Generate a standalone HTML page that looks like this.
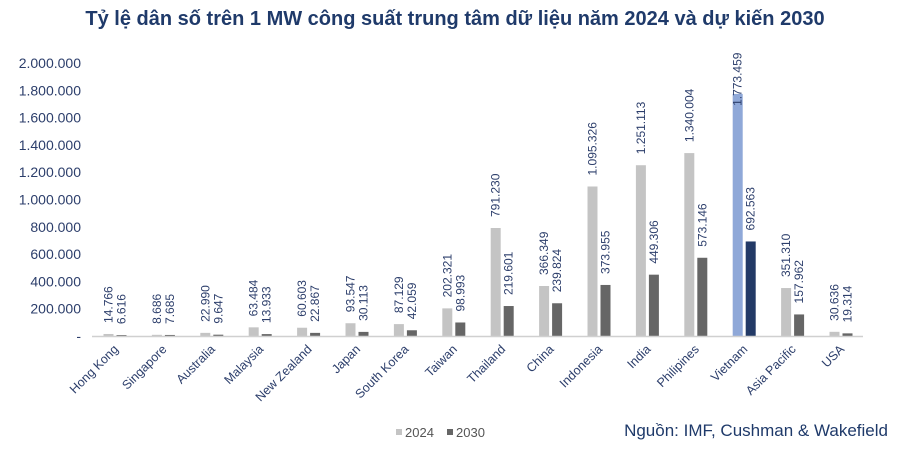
<!DOCTYPE html>
<html><head><meta charset="utf-8"><style>
body{margin:0;background:#fff;width:905px;height:452px;overflow:hidden;font-family:"Liberation Sans",sans-serif}
</style></head><body>
<svg id="chart" width="905" height="452" xmlns="http://www.w3.org/2000/svg">
<text x="455" y="25" text-anchor="middle" font-size="20" font-weight="bold" fill="#1f3a6a">Tỷ lệ dân số trên 1 MW công suất trung tâm dữ liệu năm 2024 và dự kiến 2030</text>
<g id="yaxis"></g><g id="bars"></g><g id="labels"></g>
<line x1="92" y1="336.5" x2="863" y2="336.5" stroke="#d0d0d0" stroke-width="1.5"/>
<g>
<rect x="396" y="429" width="6" height="6" fill="#c4c4c4"/>
<text x="405" y="437" font-size="13" fill="#555">2024</text>
<rect x="447" y="429" width="6" height="6" fill="#666"/>
<text x="456" y="437" font-size="13" fill="#555">2030</text>
</g>
<text x="888" y="436" text-anchor="end" font-size="17" fill="#1f3a6a">Nguồn: IMF, Cushman &amp; Wakefield</text>
</svg>
<script>
const categories=["Hong Kong","Singapore","Australia","Malaysia","New Zealand","Japan","South Korea","Taiwan","Thailand","China","Indonesia","India","Philipines","Vietnam","Asia Pacific","USA"];
const values2024=[14766,8686,22990,63484,60603,93547,87129,202321,791230,366349,1095326,1251113,1340004,1773459,351310,30636];
const values2030=[6616,7685,9647,13933,22867,30113,42059,98993,219601,239824,373955,449306,573146,692563,157962,19314];
const yTicks=[0,200000,400000,600000,800000,1000000,1200000,1400000,1600000,1800000,2000000];
const NS="http://www.w3.org/2000/svg";
const y0=336,yTop=63,yMax=2000000;
function y(v){return y0-(v/yMax)*(y0-yTop);}
function xc(i){return 115+i*48.4;}
function fmt(v){return v===0?"-":v.toString().replace(/\B(?=(\d{3})+(?!\d))/g,".");}
function mk(tag,attrs,parent){const e=document.createElementNS(NS,tag);for(const k in attrs)e.setAttribute(k,attrs[k]);parent.appendChild(e);return e;}
const ya=document.getElementById('yaxis'),bg=document.getElementById('bars'),lg=document.getElementById('labels');
yTicks.forEach(t=>{const e=mk('text',{x:81,y:y(t)+5,'text-anchor':'end','font-size':14,fill:'#2c3e6b'},ya);


e.textContent=fmt(t);});
categories.forEach((c,i)=>{
 const cx=xc(i),hi=(c==="Vietnam");
 [[values2024[i],cx-11.5,hi?'#8fa8d8':'#c4c4c4','2024'],[values2030[i],cx+1.5,hi?'#233a66':'#666','2030']].forEach(([v,x,col,yr])=>{
  const r=mk('rect',{x:x,y:y(v),width:10,height:y0-y(v),fill:col},bg);
  
  
  const tx=x+9,ty=(hi&&yr==='2024')?y(v)+12:y(v)-11;
  const t=mk('text',{x:tx,y:ty,transform:`rotate(-90 ${tx} ${ty})`,'font-size':12,fill:'#2c3e6b'},lg);
  
  
  t.textContent=fmt(v);
 });
 const lx=cx+4,ly=350;
 const l=mk('text',{x:lx,y:ly,transform:`rotate(-45 ${lx} ${ly})`,'text-anchor':'end','font-size':12.5,fill:'#2c3e6b'},lg);
 
 
 l.textContent=c;
});
</script>
</body></html>
